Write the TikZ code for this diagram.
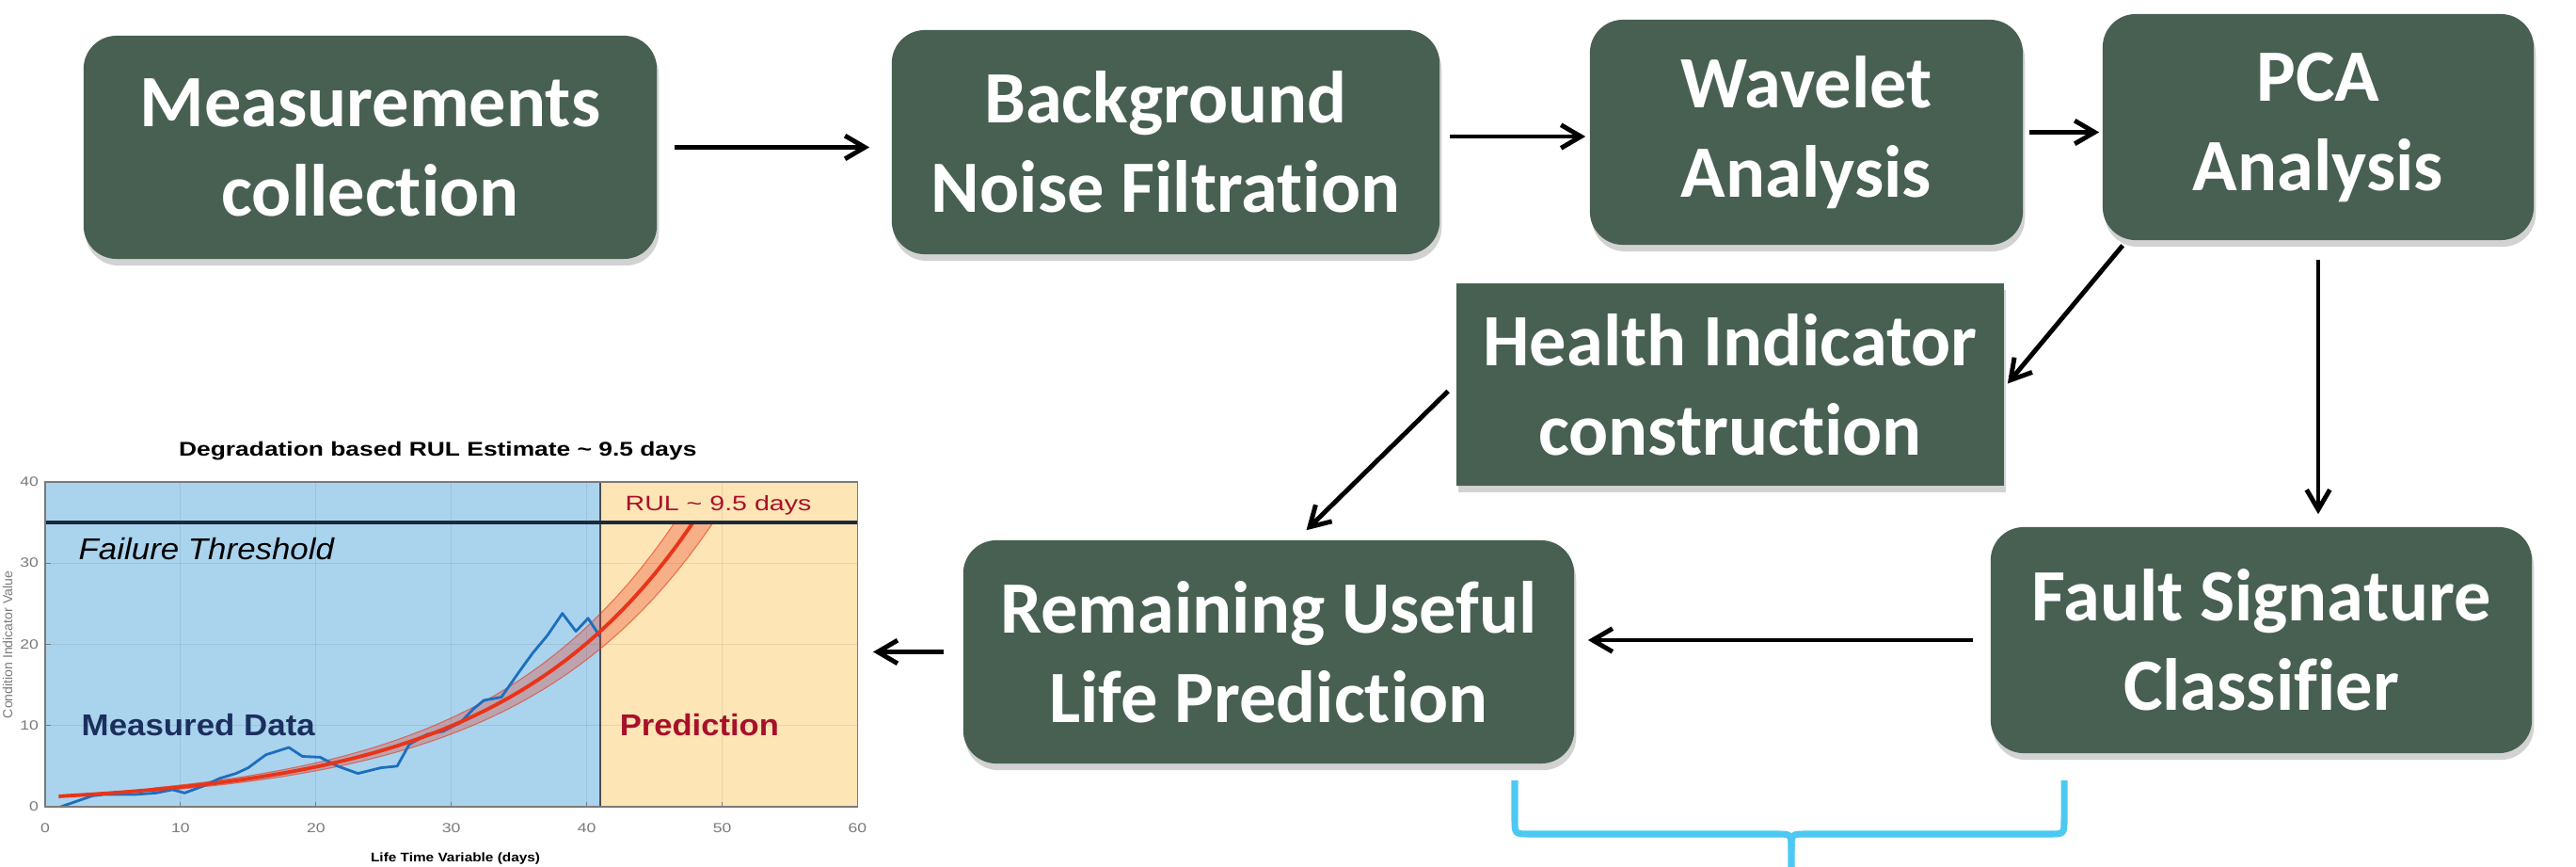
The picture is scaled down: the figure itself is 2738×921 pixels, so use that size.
\documentclass[tikz,border=0pt]{standalone}
\usepackage{fontspec}
\newfontfamily\boxfont{Carlito}[Ligatures={NoCommon,NoRare,NoContextual}]
\newfontfamily\chartfont{Liberation Sans}
\usetikzlibrary{arrows.meta,shadows,calc}
\definecolor{boxgreen}{HTML}{476052}
\definecolor{bluebg}{HTML}{AAD4EE}
\definecolor{orangebg}{HTML}{FDE5B6}
\definecolor{thrc}{HTML}{1B2A3B}
\definecolor{datablue}{HTML}{1E6EBE}
\definecolor{fitred}{HTML}{E8341A}
\definecolor{navytext}{HTML}{1B2F5E}
\definecolor{redtext}{HTML}{A8102A}
\definecolor{bracec}{HTML}{4CC9F2}
\definecolor{tickc}{HTML}{7A7A7A}
\begin{document}
\begin{tikzpicture}[x=0.01cm,y=-0.01cm,
  proc/.style={fill=boxgreen, text=white, align=center, inner sep=0pt,
    font=\boxfont\bfseries\fontsize{22.3}{27}\selectfont,
    drop shadow={shadow xshift=0.6pt, shadow yshift=-2pt, opacity=0.35}},
  rproc/.style={proc, rounded corners=10pt},
  arr/.style={-{Straight Barb[length=6pt,width=7pt]}, line width=1.4pt},
  bracestyle/.style={draw=bracec, line width=2pt, line join=round},
  ticklab/.style={text=tickc, font=\chartfont\fontsize{4}{5}\selectfont, inner sep=0pt}
]
\fill[white] (0,0) rectangle (2738,921);
\useasboundingbox (0,0) rectangle (2738,921);

% process boxes
\node[rproc, minimum width=6.09cm, minimum height=2.37cm] (meas) at (393.5,156.5) {Measurements\\collection};
\node[rproc, minimum width=5.82cm, minimum height=2.38cm] (noise) at (1239,151) {Background\\Noise Filtration};
\node[rproc, minimum width=4.60cm, minimum height=2.39cm] (wave) at (1920,140.5) {Wavelet\\Analysis};
\node[rproc, minimum width=4.58cm, minimum height=2.40cm] (pca) at (2464,135) {PCA\\Analysis};
\node[proc, minimum width=5.82cm, minimum height=2.15cm] (hi) at (1839,408.5) {Health Indicator\\construction};
\node[rproc, minimum width=6.49cm, minimum height=2.37cm] (rul) at (1348.5,692.5) {Remaining Useful\\Life Prediction};
\node[rproc, minimum width=5.75cm, minimum height=2.40cm] (fault) at (2403.5,680) {Fault Signature\\Classifier};

% chart
\coordinate (chartR) at (911,693);
\begin{scope}[shift={(48,857)}, x=0.14383cm, y=0.08625cm]
  \fill[bluebg] (0,0) rectangle (41,40);
  \fill[orangebg] (41,0) rectangle (60,40);
  \foreach \gx in {10,20,30,40,50} \draw[black, opacity=0.08, line width=0.3pt] (\gx,0) -- (\gx,40);
  \foreach \gy in {10,20,30} \draw[black, opacity=0.08, line width=0.3pt] (0,\gy) -- (60,\gy);
  \draw[gray!60!black, line width=0.4pt] (41,0) -- (41,40);
  \begin{scope}
    \clip (0,0) rectangle (60,35);
    \fill[fitred, opacity=0.3] plot[domain=8:52, samples=50] ({\x},{1.2*exp(0.0705*\x)*1.1})
       -- plot[domain=52:8, samples=50] ({\x},{1.2*exp(0.0705*\x)*0.9}) -- cycle;
    \draw[fitred, opacity=0.6, line width=0.3pt] plot[domain=8:52, samples=50] ({\x},{1.2*exp(0.0705*\x)*1.1});
    \draw[fitred, opacity=0.6, line width=0.3pt] plot[domain=8:52, samples=50] ({\x},{1.2*exp(0.0705*\x)*0.9});
  \end{scope}
  \draw[datablue, line width=0.8pt, line join=round] plot coordinates {(1.15,0) (3.5,1.35) (4.3,1.5) (6.5,1.5) (8.2,1.7) (9.4,2.1) (10.3,1.7) (11.6,2.5) (12.9,3.5) (14.1,4.1) (15,4.8) (16.3,6.4) (18,7.3) (19,6.2) (20.3,6.1) (21.6,5) (23.1,4.1) (24.8,4.8) (26,5) (26.9,7.7) (28.2,8.9) (29.4,9.3) (30.7,10.4) (31.6,12) (32.4,13.1) (33.7,13.5) (35,16.6) (36,18.9) (37.1,21.1) (38.2,23.8) (39.2,21.6) (40.1,23.2) (41,20.9)};
  \begin{scope}
    \clip (0,0) rectangle (60,35);
    \draw[fitred, line width=1.1pt] plot[domain=1:50, samples=60] ({\x},{1.2*exp(0.0705*\x)});
  \end{scope}
  \draw[thrc, line width=1.2pt] (0,35) -- (60,35);
  \draw[tickc, line width=0.4pt] (0,0) rectangle (60,40);
  \foreach \gx in {10,20,30,40,50} \draw[tickc, line width=0.3pt] (\gx,0) -- (\gx,0.6);
  \foreach \gy in {10,20,30} \draw[tickc, line width=0.3pt] (0,\gy) -- (0.4,\gy);
  \foreach \gy in {0,10,20,30,40} \node[ticklab, anchor=east] at (-0.45,\gy) {\scalebox{1.25}[1]{\gy}};
  \foreach \gx in {0,10,20,30,40,50,60} \node[ticklab] at (\gx,-2.67) {\scalebox{1.25}[1]{\gx}};
  \node[inner sep=0pt, font=\chartfont\bfseries\fontsize{6}{7}\selectfont] at (29,43.8) {\scalebox{1.25}[1]{Degradation based RUL Estimate \textasciitilde{} 9.5 days}};
  \node[inner sep=0pt, font=\chartfont\bfseries\fontsize{3.8}{5}\selectfont] at (30.3,-6.4) {\scalebox{1.15}[1]{Life Time Variable (days)}};
  \node[anchor=base west, inner sep=0pt, font=\chartfont\itshape\fontsize{9.1}{11}\selectfont] at (2.43,30.4) {\scalebox{1.09}[1]{Failure Threshold}};
  \node[anchor=base west, inner sep=0pt, text=navytext, font=\chartfont\bfseries\fontsize{9.1}{11}\selectfont] at (2.64,8.7) {\scalebox{1.09}[1]{Measured Data}};
  \node[anchor=base west, inner sep=0pt, text=redtext, font=\chartfont\bfseries\fontsize{9.1}{11}\selectfont] at (42.4,8.7) {\scalebox{1.08}[1]{Prediction}};
  \node[anchor=base west, inner sep=0pt, text=redtext, font=\chartfont\fontsize{6.3}{8}\selectfont] at (42.8,36.4) {\scalebox{1.29}[1]{RUL \textasciitilde{} 9.5 days}};
\end{scope}
\node[rotate=90, anchor=south, inner sep=0pt, text=tickc, font=\chartfont\fontsize{4}{5}\selectfont] (ylab) at (14,685) {Condition Indicator Value};

% connectors
\draw[arr, shorten <=0.18cm, shorten >=0.23cm] (meas.east) -- (meas.east -| noise.west);
\draw[arr, shorten <=0.1cm, shorten >=0.04cm] ([yshift=1.7pt]noise.east) -- ([yshift=1.7pt]noise.east -| wave.west);
\draw[arr, shorten <=0.06cm, shorten >=0.03cm] (wave.east) -- (wave.east -| pca.west);
\draw[arr] ($(pca.south west)+(22,5)$) -- ($(hi.east)+(3,-1)$);
\draw[arr] ($(hi.west)+(-8,7)$) -- ($(rul.north)+(40,-10)$);
\draw[arr, shorten <=0.2cm, shorten >=0.13cm] (pca.south) -- (pca.south |- fault.north);
\draw[arr, shorten <=0.18cm, shorten >=0.14cm] (fault.west) -- (fault.west -| rul.east);
\draw[arr, shorten <=0.2cm, shorten >=0.17cm] (rul.west) -- (rul.west -| chartR);

% brace
\draw[bracestyle] (1610,829) -- (1610,870) .. controls (1610,886) and (1610,886) .. (1626,886) -- (1888,886) .. controls (1904,886) and (1904,886) .. (1904,902) -- (1904,925);
\draw[bracestyle] (2194,829) -- (2194,870) .. controls (2194,886) and (2194,886) .. (2178,886) -- (1920,886) .. controls (1904,886) and (1904,886) .. (1904,902);
\end{tikzpicture}
\end{document}
